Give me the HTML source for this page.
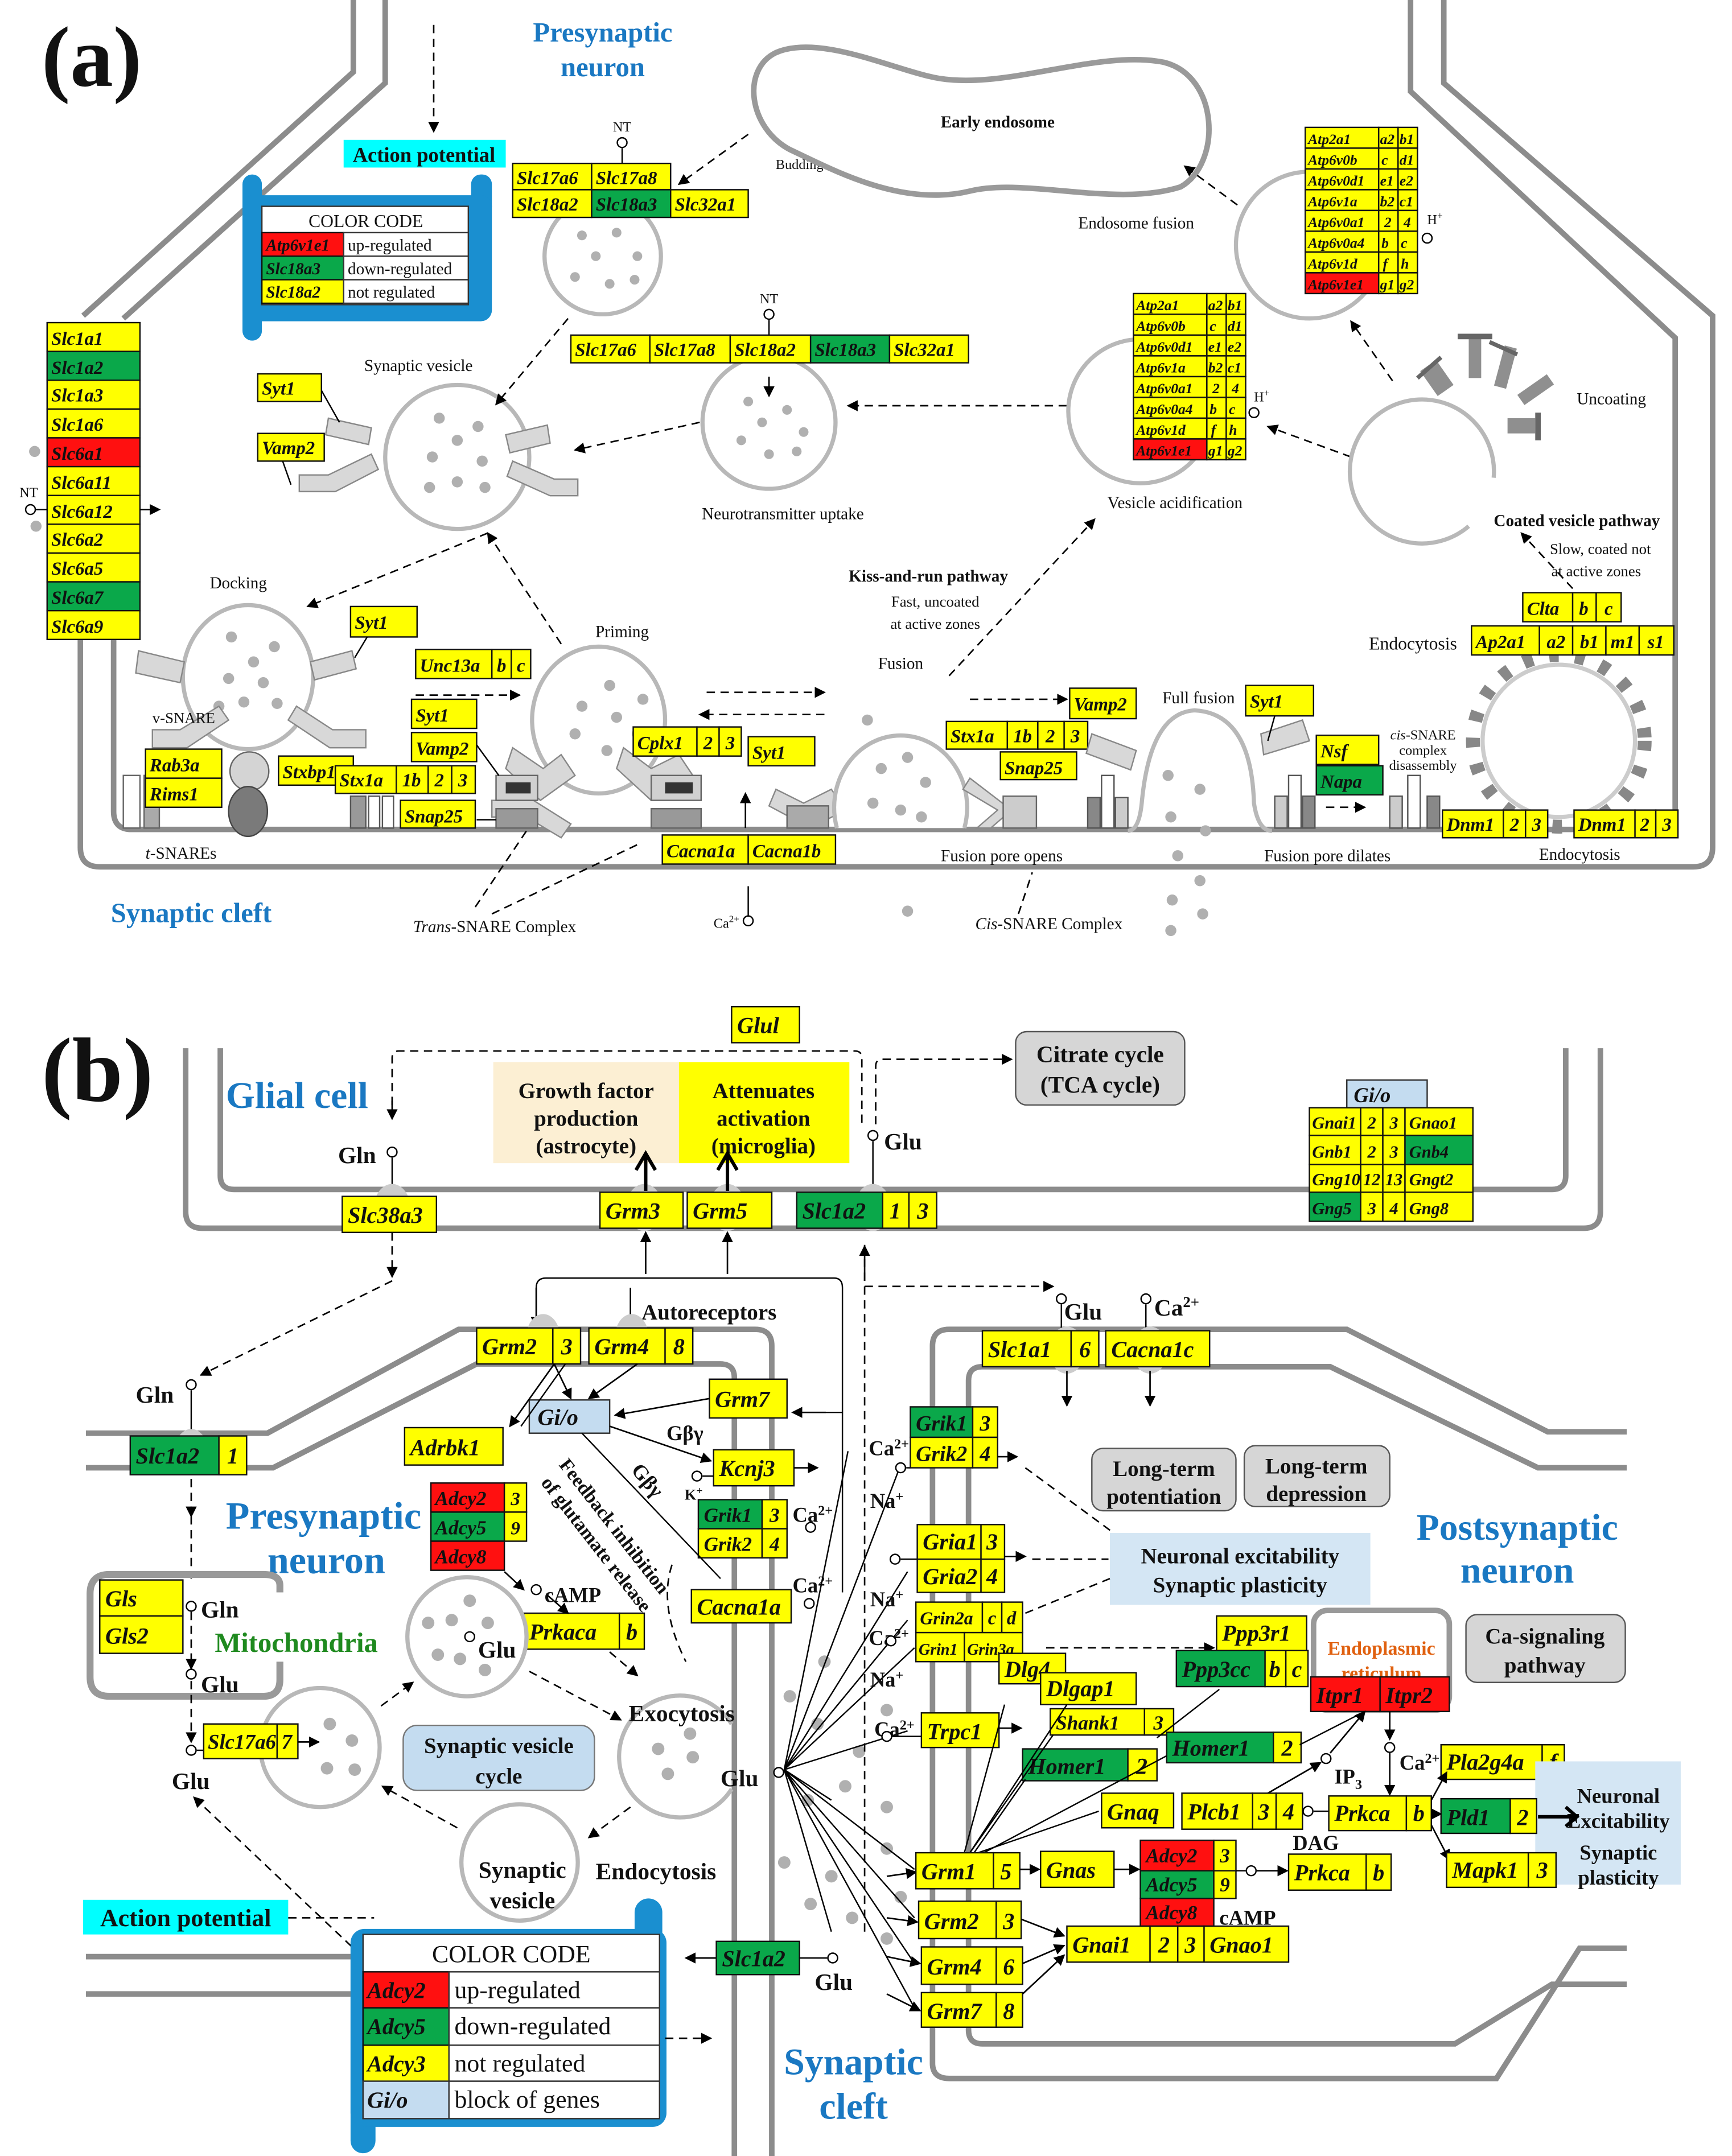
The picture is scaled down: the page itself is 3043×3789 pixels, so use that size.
<!DOCTYPE html>
<html><head><meta charset="utf-8">
<style>
html,body{margin:0;padding:0;background:#fff;}
svg{display:block;}
text{font-family:"Liberation Serif",serif;fill:#111;}
.Y{fill:#ffff00;stroke:#111;stroke-width:1}
.G{fill:#0aa84a;stroke:#111;stroke-width:1}
.R{fill:#ff1010;stroke:#111;stroke-width:1}
.L{fill:#c4dcf0;stroke:#333;stroke-width:1}
.gi{font-style:italic;font-size:13.5px;font-weight:bold}
.gb{font-style:italic;font-size:16.5px;font-weight:bold}
.c{text-anchor:middle}
.m{stroke:#8c8c8c;stroke-width:4;fill:none}
.v{fill:#fff;stroke:#b8b8b8;stroke-width:3}
.d{fill:#b0b0b0}
.a{stroke:#000;stroke-width:1.1;fill:none;marker-end:url(#ar)}
.da{stroke:#000;stroke-width:1.1;fill:none;stroke-dasharray:6 4;marker-end:url(#ar)}
.dl{stroke:#000;stroke-width:1.1;fill:none;stroke-dasharray:6 4}
.ln{stroke:#000;stroke-width:1;fill:none}
.s{font-size:12px}
.blue{fill:#1a78c2}
.gs{fill:#d8d8d8;stroke:#888;stroke-width:1}
.bsec text{font-weight:bold}
</style></head><body>
<svg width="3043" height="3789" viewBox="0 0 1250 1557" preserveAspectRatio="none" xmlns="http://www.w3.org/2000/svg">
<defs>
<marker id="ar" markerWidth="8" markerHeight="8" refX="7" refY="4" orient="auto" markerUnits="userSpaceOnUse"><path d="M0,0 L8,4 L0,8 z" fill="#000"/></marker>
</defs>
<rect width="1250" height="1557" fill="#fff"/>

<!-- ================= (a) ================= -->
<text x="30" y="62" style="font-size:62px;font-weight:bold">(a)</text>
<text x="435" y="30" class="c blue" style="font-size:20px;font-weight:bold">Presynaptic</text>
<text x="435" y="55" class="c blue" style="font-size:20px;font-weight:bold">neuron</text>
<text x="80" y="666" class="blue" style="font-size:20px;font-weight:bold">Synaptic cleft</text>

<path class="m" d="M255,0 V52 L60,228"/>
<path class="m" d="M278,0 V60 L89,230"/>
<path class="m" d="M58,462 V612 Q58,626 72,626 H1222 Q1236,626 1236,612 V228 L1042,60 V0"/>
<path class="m" d="M82,462 V586 Q82,599 95,599 H1209 V244 L1018,66 V0"/>

<path class="da" d="M313,18 V95"/>
<rect x="248" y="101" width="117" height="20" fill="#00ffff"/>
<text x="306" y="117" class="c" style="font-size:15px;font-weight:bold">Action potential</text>

<rect x="175" y="126" width="14" height="120" rx="7" fill="#1a8fd0"/>
<rect x="340" y="126" width="15" height="30" rx="7" fill="#1a8fd0"/>
<rect x="175" y="141" width="180" height="91" rx="8" fill="#1a8fd0"/>
<rect x="189" y="149" width="149" height="71" fill="#fff" stroke="#333"/>
<text x="264" y="164" class="c" style="font-size:13px">COLOR CODE</text>
<rect x="189" y="168" width="59" height="17" class="R"/><text x="192" y="181" class="gi" style="font-size:12px">Atp6v1e1</text>
<rect x="248" y="168" width="90" height="17" fill="#fff" stroke="#333"/><text x="251" y="181" style="font-size:12px">up-regulated</text>
<rect x="189" y="185" width="59" height="17" class="G"/><text x="192" y="198" class="gi" style="font-size:12px">Slc18a3</text>
<rect x="248" y="185" width="90" height="17" fill="#fff" stroke="#333"/><text x="251" y="198" style="font-size:12px">down-regulated</text>
<rect x="189" y="202" width="59" height="17" class="Y"/><text x="192" y="215" class="gi" style="font-size:12px">Slc18a2</text>
<rect x="248" y="202" width="90" height="17" fill="#fff" stroke="#333"/><text x="251" y="215" style="font-size:12px">not regulated</text>

<rect x="34" y="233" width="67" height="20.8" class="Y"/><text x="37" y="249" class="gi">Slc1a1</text>
<rect x="34" y="253.8" width="67" height="20.8" class="G"/><text x="37" y="270" class="gi">Slc1a2</text>
<rect x="34" y="274.6" width="67" height="20.8" class="Y"/><text x="37" y="290" class="gi">Slc1a3</text>
<rect x="34" y="295.4" width="67" height="20.8" class="Y"/><text x="37" y="311" class="gi">Slc1a6</text>
<rect x="34" y="316.2" width="67" height="20.8" class="R"/><text x="37" y="332" class="gi">Slc6a1</text>
<rect x="34" y="337" width="67" height="20.8" class="Y"/><text x="37" y="353" class="gi">Slc6a11</text>
<rect x="34" y="357.8" width="67" height="20.8" class="Y"/><text x="37" y="374" class="gi">Slc6a12</text>
<rect x="34" y="378.6" width="67" height="20.8" class="Y"/><text x="37" y="394" class="gi">Slc6a2</text>
<rect x="34" y="399.4" width="67" height="20.8" class="Y"/><text x="37" y="415" class="gi">Slc6a5</text>
<rect x="34" y="420.2" width="67" height="20.8" class="G"/><text x="37" y="436" class="gi">Slc6a7</text>
<rect x="34" y="441" width="67" height="20.8" class="Y"/><text x="37" y="457" class="gi">Slc6a9</text>
<circle cx="25" cy="326" r="4" class="d"/><circle cx="26" cy="380" r="4" class="d"/>
<text x="14" y="359" style="font-size:10px">NT</text>
<circle cx="22" cy="368" r="3.5" fill="#fff" stroke="#000"/>
<path class="ln" d="M25,368 H34"/><path class="a" d="M101,368 H115"/>

<text x="449" y="95" class="c" style="font-size:10px">NT</text>
<circle cx="449" cy="103" r="3.5" fill="#fff" stroke="#000"/><path class="ln" d="M449,107 V118"/>
<circle cx="435" cy="185" r="42" class="v"/>
<circle cx="420" cy="170" r="3.5" class="d"/><circle cx="445" cy="168" r="3.5" class="d"/><circle cx="430" cy="185" r="3.5" class="d"/><circle cx="460" cy="185" r="3.5" class="d"/><circle cx="415" cy="200" r="3.5" class="d"/><circle cx="440" cy="205" r="3.5" class="d"/><circle cx="458" cy="202" r="3.5" class="d"/>
<rect x="370" y="118" width="57" height="19" class="Y"/><text x="373" y="133" class="gi">Slc17a6</text>
<rect x="427" y="118" width="57" height="19" class="Y"/><text x="430" y="133" class="gi">Slc17a8</text>
<rect x="370" y="137" width="57" height="20" class="Y"/><text x="373" y="152" class="gi">Slc18a2</text>
<rect x="427" y="137" width="57" height="20" class="G"/><text x="430" y="152" class="gi">Slc18a3</text>
<rect x="484" y="137" width="56" height="20" class="Y"/><text x="487" y="152" class="gi">Slc32a1</text>
<path class="da" d="M540,97 L490,133"/>
<text x="577" y="122" class="c" style="font-size:10px">Budding</text>

<path d="M560,38 C590,25 640,48 670,55 C720,68 790,35 840,45 C880,55 882,118 852,135 C805,150 740,128 700,138 C650,150 600,122 570,108 C540,92 535,50 560,38 Z" fill="none" stroke="#9a9a9a" stroke-width="4"/>
<text x="720" y="92" class="c" style="font-size:12px;font-weight:bold">Early endosome</text>

<text x="302" y="268" class="c s">Synaptic vesicle</text>
<circle cx="330" cy="330" r="52" class="v"/>
<circle cx="317" cy="302" r="4" class="d"/><circle cx="345" cy="308" r="4" class="d"/><circle cx="330" cy="318" r="4" class="d"/><circle cx="312" cy="330" r="4" class="d"/><circle cx="348" cy="333" r="4" class="d"/><circle cx="310" cy="352" r="4" class="d"/><circle cx="330" cy="348" r="4" class="d"/><circle cx="350" cy="352" r="4" class="d"/>
<path class="gs" d="M237,302 L268,309 L266,321 L235,314 Z"/>
<path class="gs" d="M365,314 L395,307 L397,320 L368,327 Z"/>
<path class="gs" d="M216,343 H237 L268,328 L273,339 L242,355 H216 Z"/>
<path class="gs" d="M370,333 L400,346 H417 V358 H397 L366,344 Z"/>
<rect x="186" y="270" width="46" height="20" class="Y"/><text x="189" y="285" class="gi">Syt1</text>
<rect x="186" y="313" width="48" height="20" class="Y"/><text x="189" y="328" class="gi">Vamp2</text>
<path class="ln" d="M232,282 L245,305"/><path class="ln" d="M204,333 L210,350"/>
<path class="da" d="M410,230 L358,292"/>
<path class="da" d="M505,305 L415,325"/>
<path class="da" d="M352,385 L222,438"/>
<path class="da" d="M405,465 L352,385"/>

<text x="555" y="219" class="c" style="font-size:10px">NT</text>
<circle cx="555" cy="227" r="3.5" fill="#fff" stroke="#000"/><path class="ln" d="M555,231 V242"/>
<circle cx="555" cy="305" r="48" class="v"/>
<rect x="412" y="242" width="57" height="20" class="Y"/><text x="415" y="257" class="gi">Slc17a6</text>
<rect x="469" y="242" width="58" height="20" class="Y"/><text x="472" y="257" class="gi">Slc17a8</text>
<rect x="527" y="242" width="58" height="20" class="Y"/><text x="530" y="257" class="gi">Slc18a2</text>
<rect x="585" y="242" width="57" height="20" class="G"/><text x="588" y="257" class="gi">Slc18a3</text>
<rect x="642" y="242" width="57" height="20" class="Y"/><text x="645" y="257" class="gi">Slc32a1</text>
<circle cx="540" cy="290" r="3.5" class="d"/><circle cx="568" cy="296" r="3.5" class="d"/><circle cx="550" cy="305" r="3.5" class="d"/><circle cx="580" cy="312" r="3.5" class="d"/><circle cx="535" cy="318" r="3.5" class="d"/><circle cx="555" cy="328" r="3.5" class="d"/><circle cx="575" cy="326" r="3.5" class="d"/>
<path class="a" d="M555,272 V286"/>
<text x="565" y="375" class="c s">Neurotransmitter uptake</text>
<path class="da" d="M770,293 H612"/>

<circle cx="823" cy="297" r="52" class="v"/>
<text x="848" y="367" class="c s">Vesicle acidification</text>
<g>
<rect x="818" y="212" width="53" height="15" class="Y"/><rect x="871" y="212" width="14" height="15" class="Y"/><rect x="885" y="212" width="14" height="15" class="Y"/>
<rect x="818" y="227" width="53" height="15" class="Y"/><rect x="871" y="227" width="14" height="15" class="Y"/><rect x="885" y="227" width="14" height="15" class="Y"/>
<rect x="818" y="242" width="53" height="15" class="Y"/><rect x="871" y="242" width="14" height="15" class="Y"/><rect x="885" y="242" width="14" height="15" class="Y"/>
<rect x="818" y="257" width="53" height="15" class="Y"/><rect x="871" y="257" width="14" height="15" class="Y"/><rect x="885" y="257" width="14" height="15" class="Y"/>
<rect x="818" y="272" width="53" height="15" class="Y"/><rect x="871" y="272" width="14" height="15" class="Y"/><rect x="885" y="272" width="14" height="15" class="Y"/>
<rect x="818" y="287" width="53" height="15" class="Y"/><rect x="871" y="287" width="14" height="15" class="Y"/><rect x="885" y="287" width="14" height="15" class="Y"/>
<rect x="818" y="302" width="53" height="15" class="Y"/><rect x="871" y="302" width="14" height="15" class="Y"/><rect x="885" y="302" width="14" height="15" class="Y"/>
<rect x="818" y="317" width="53" height="15" class="R"/><rect x="871" y="317" width="14" height="15" class="Y"/><rect x="885" y="317" width="14" height="15" class="Y"/>
<g class="gi" style="font-size:10.5px">
<text x="820" y="224">Atp2a1</text><text x="872" y="224">a2</text><text x="886" y="224">b1</text>
<text x="820" y="239">Atp6v0b</text><text x="873" y="239">c</text><text x="886" y="239">d1</text>
<text x="820" y="254">Atp6v0d1</text><text x="872" y="254">e1</text><text x="886" y="254">e2</text>
<text x="820" y="269">Atp6v1a</text><text x="872" y="269">b2</text><text x="886" y="269">c1</text>
<text x="820" y="284">Atp6v0a1</text><text x="875" y="284">2</text><text x="889" y="284">4</text>
<text x="820" y="299">Atp6v0a4</text><text x="873" y="299">b</text><text x="887" y="299">c</text>
<text x="820" y="314">Atp6v1d</text><text x="874" y="314">f</text><text x="887" y="314">h</text>
<text x="820" y="329">Atp6v1e1</text><text x="872" y="329">g1</text><text x="886" y="329">g2</text>
</g></g>
<text x="905" y="290" style="font-size:10px">H<tspan dy="-4" style="font-size:7px">+</tspan></text>
<circle cx="905" cy="298" r="3.5" fill="#fff" stroke="#000"/>

<circle cx="945" cy="177" r="53" class="v"/>
<text x="820" y="165" class="c s">Endosome fusion</text>
<g>
<rect x="942" y="92" width="53" height="15" class="Y"/><rect x="995" y="92" width="14" height="15" class="Y"/><rect x="1009" y="92" width="14" height="15" class="Y"/>
<rect x="942" y="107" width="53" height="15" class="Y"/><rect x="995" y="107" width="14" height="15" class="Y"/><rect x="1009" y="107" width="14" height="15" class="Y"/>
<rect x="942" y="122" width="53" height="15" class="Y"/><rect x="995" y="122" width="14" height="15" class="Y"/><rect x="1009" y="122" width="14" height="15" class="Y"/>
<rect x="942" y="137" width="53" height="15" class="Y"/><rect x="995" y="137" width="14" height="15" class="Y"/><rect x="1009" y="137" width="14" height="15" class="Y"/>
<rect x="942" y="152" width="53" height="15" class="Y"/><rect x="995" y="152" width="14" height="15" class="Y"/><rect x="1009" y="152" width="14" height="15" class="Y"/>
<rect x="942" y="167" width="53" height="15" class="Y"/><rect x="995" y="167" width="14" height="15" class="Y"/><rect x="1009" y="167" width="14" height="15" class="Y"/>
<rect x="942" y="182" width="53" height="15" class="Y"/><rect x="995" y="182" width="14" height="15" class="Y"/><rect x="1009" y="182" width="14" height="15" class="Y"/>
<rect x="942" y="197" width="53" height="15" class="R"/><rect x="995" y="197" width="14" height="15" class="Y"/><rect x="1009" y="197" width="14" height="15" class="Y"/>
<g class="gi" style="font-size:10.5px">
<text x="944" y="104">Atp2a1</text><text x="996" y="104">a2</text><text x="1010" y="104">b1</text>
<text x="944" y="119">Atp6v0b</text><text x="997" y="119">c</text><text x="1010" y="119">d1</text>
<text x="944" y="134">Atp6v0d1</text><text x="996" y="134">e1</text><text x="1010" y="134">e2</text>
<text x="944" y="149">Atp6v1a</text><text x="996" y="149">b2</text><text x="1010" y="149">c1</text>
<text x="944" y="164">Atp6v0a1</text><text x="999" y="164">2</text><text x="1013" y="164">4</text>
<text x="944" y="179">Atp6v0a4</text><text x="997" y="179">b</text><text x="1011" y="179">c</text>
<text x="944" y="194">Atp6v1d</text><text x="998" y="194">f</text><text x="1011" y="194">h</text>
<text x="944" y="209">Atp6v1e1</text><text x="996" y="209">g1</text><text x="1010" y="209">g2</text>
</g></g>
<text x="1030" y="162" style="font-size:10px">H<tspan dy="-4" style="font-size:7px">+</tspan></text>
<circle cx="1030" cy="172" r="3.5" fill="#fff" stroke="#000"/>
<path class="da" d="M893,148 L855,120"/>
<path class="da" d="M1005,275 L975,232"/>
<path class="da" d="M975,330 L915,308"/>

<path d="M1060,380 A52,52 0 1 1 1078,345" fill="none" stroke="#b8b8b8" stroke-width="3"/>
<g fill="#8f8f8f">
<rect x="1030" y="262" width="14" height="22" transform="rotate(-35 1037 273)"/>
<rect x="1060" y="243" width="9" height="30"/><rect x="1052" y="241" width="25" height="4" fill="#666"/>
<rect x="1082" y="250" width="9" height="30" transform="rotate(15 1086 265)"/>
<rect x="1104" y="268" width="9" height="26" transform="rotate(55 1108 281)"/>
<rect x="1088" y="302" width="20" height="11"/><rect x="1108" y="298" width="4" height="20" fill="#666"/>
</g>
<path d="M1023,273 L1040,258" stroke="#666" stroke-width="3"/>
<path d="M1075,247 L1095,256" stroke="#666" stroke-width="3"/>
<text x="1138" y="292" class="s">Uncoating</text>
<text x="1138" y="380" class="c s" style="font-weight:bold">Coated vesicle pathway</text>
<text x="1155" y="400" class="c" style="font-size:11px">Slow, coated not</text>
<text x="1152" y="416" class="c" style="font-size:11px">at active zones</text>

<text x="670" y="420" class="c" style="font-size:12px;font-weight:bold">Kiss-and-run pathway</text>
<text x="675" y="438" class="c" style="font-size:11px">Fast, uncoated</text>
<text x="675" y="454" class="c" style="font-size:11px">at active zones</text>
<text x="650" y="483" class="c s">Fusion</text>
<path class="da" d="M685,488 L790,375"/>

<text x="172" y="425" class="c s">Docking</text>
<ellipse cx="179" cy="489" rx="47" ry="52" class="v"/>
<circle cx="167" cy="460" r="4" class="d"/><circle cx="198" cy="467" r="4" class="d"/><circle cx="183" cy="478" r="4" class="d"/><circle cx="165" cy="490" r="4" class="d"/><circle cx="190" cy="493" r="4" class="d"/><circle cx="158" cy="510" r="4" class="d"/><circle cx="176" cy="507" r="4" class="d"/><circle cx="200" cy="508" r="4" class="d"/>
<path class="gs" d="M100,470 L133,478 L130,493 L98,486 Z"/>
<path class="gs" d="M224,478 L254,470 L257,483 L227,491 Z"/>
<path class="gs" d="M110,527 H130 L158,510 L165,520 L135,540 H110 Z"/>
<path class="gs" d="M214,510 L240,527 H264 V540 H238 L208,520 Z"/>
<text x="110" y="522" style="font-size:11px">v-SNARE</text>
<rect x="89" y="560" width="12" height="38" fill="#fff" stroke="#666"/>
<rect x="104" y="560" width="11" height="38" fill="#aaa" stroke="#666"/>
<rect x="105" y="541" width="55" height="21" class="Y"/><text x="108" y="557" class="gi">Rab3a</text>
<rect x="105" y="562" width="55" height="21" class="Y"/><text x="108" y="578" class="gi">Rims1</text>
<circle cx="180" cy="557" r="14" fill="#d4d4d4" stroke="#666"/>
<ellipse cx="179" cy="586" rx="14" ry="18" fill="#7a7a7a" stroke="#444"/>
<rect x="201" y="546" width="54" height="21" class="Y"/><text x="204" y="562" class="gi">Stxbp1</text>
<rect x="242" y="553" width="44" height="20" class="Y"/><text x="245" y="568" class="gi">Stx1a</text>
<rect x="286" y="553" width="23" height="20" class="Y"/><text x="297" y="568" class="gi c">1b</text>
<rect x="309" y="553" width="17" height="20" class="Y"/><text x="317" y="568" class="gi c">2</text>
<rect x="326" y="553" width="17" height="20" class="Y"/><text x="334" y="568" class="gi c">3</text>
<rect x="253" y="575" width="11" height="23" fill="#999" stroke="#555"/><rect x="266" y="575" width="8" height="23" fill="#fff" stroke="#555"/><rect x="276" y="575" width="8" height="23" fill="#fff" stroke="#555"/>
<rect x="253" y="438" width="48" height="22" class="Y"/><text x="256" y="454" class="gi">Syt1</text>
<path class="ln" d="M265,460 L256,475"/>
<text x="105" y="620" class="s"><tspan font-style="italic">t</tspan>-SNAREs</text>

<rect x="300" y="469" width="55" height="21" class="Y"/><text x="303" y="485" class="gi">Unc13a</text>
<rect x="355" y="469" width="14" height="21" class="Y"/><text x="362" y="485" class="gi c">b</text>
<rect x="369" y="469" width="14" height="21" class="Y"/><text x="376" y="485" class="gi c">c</text>
<path class="da" d="M300,502 H375"/>
<text x="449" y="460" class="c s">Priming</text>
<ellipse cx="432" cy="520" rx="48" ry="53" class="v"/>
<circle cx="440" cy="495" r="4" class="d"/><circle cx="464" cy="505" r="4" class="d"/><circle cx="420" cy="510" r="4" class="d"/><circle cx="445" cy="518" r="4" class="d"/><circle cx="415" cy="530" r="4" class="d"/><circle cx="460" cy="530" r="4" class="d"/><circle cx="438" cy="542" r="4" class="d"/>
<rect x="297" y="505" width="47" height="21" class="Y"/><text x="300" y="521" class="gi">Syt1</text>
<rect x="297" y="529" width="47" height="21" class="Y"/><text x="300" y="545" class="gi">Vamp2</text>
<rect x="289" y="578" width="54" height="20" class="Y"/><text x="292" y="594" class="gi">Snap25</text>
<path class="gs" d="M370,540 L392,555 L405,545 L415,560 L390,578 L365,555 Z"/>
<path class="gs" d="M355,578 L385,578 L412,595 L405,605 L380,590 L355,590 Z"/>
<rect x="358" y="560" width="30" height="18" fill="#d0d0d0" stroke="#666"/><rect x="365" y="565" width="18" height="8" fill="#333"/>
<rect x="358" y="584" width="30" height="14" fill="#999" stroke="#666"/>
<path class="gs" d="M450,540 L470,555 L490,545 L500,560 L470,578 L445,555 Z"/>
<rect x="470" y="560" width="36" height="18" fill="#d0d0d0" stroke="#666"/><rect x="480" y="565" width="20" height="8" fill="#333"/>
<rect x="470" y="584" width="36" height="14" fill="#999" stroke="#666"/>
<path class="ln" d="M344,538 L360,560"/><path class="ln" d="M344,592 L358,592"/>
<rect x="457" y="525" width="46" height="21" class="Y"/><text x="460" y="541" class="gi">Cplx1</text>
<rect x="503" y="525" width="16" height="21" class="Y"/><text x="511" y="541" class="gi c">2</text>
<rect x="519" y="525" width="16" height="21" class="Y"/><text x="527" y="541" class="gi c">3</text>
<rect x="540" y="532" width="48" height="21" class="Y"/><text x="543" y="548" class="gi">Syt1</text>
<path class="gs" d="M560,570 L580,580 L600,570 L610,585 L585,598 L555,582 Z"/>
<rect x="568" y="582" width="30" height="16" fill="#aaa" stroke="#666"/>
<path class="da" d="M510,500 H595"/>
<path class="da" d="M595,516 H505"/>
<rect x="478" y="603" width="62" height="21" class="Y"/><text x="481" y="619" class="gi">Cacna1a</text>
<rect x="540" y="603" width="63" height="21" class="Y"/><text x="543" y="619" class="gi">Cacna1b</text>
<path class="a" d="M538,598 V573"/>
<text x="515" y="670" style="font-size:10px">Ca<tspan dy="-4" style="font-size:7px">2+</tspan></text>
<circle cx="540" cy="665" r="3.5" fill="#fff" stroke="#000"/><path class="ln" d="M540,661 V640"/>
<path class="dl" d="M343,655 L380,600"/><path class="dl" d="M355,660 L460,610"/>
<text x="357" y="673" class="c s"><tspan font-style="italic">Trans</tspan>-SNARE Complex</text>

<path d="M604,598 A48,52 0 1 1 696,598" fill="#fff" stroke="#b8b8b8" stroke-width="3"/>
<circle cx="636" cy="555" r="4" class="d"/><circle cx="655" cy="547" r="4" class="d"/><circle cx="668" cy="565" r="4" class="d"/><circle cx="630" cy="580" r="4" class="d"/><circle cx="650" cy="585" r="4" class="d"/><circle cx="665" cy="590" r="4" class="d"/><circle cx="655" cy="658" r="4" class="d"/><circle cx="626" cy="520" r="4" class="d"/>
<path class="da" d="M700,505 H770"/>
<rect x="772" y="497" width="48" height="22" class="Y"/><text x="775" y="513" class="gi">Vamp2</text>
<rect x="683" y="521" width="44" height="20" class="Y"/><text x="686" y="536" class="gi">Stx1a</text>
<rect x="727" y="521" width="22" height="20" class="Y"/><text x="738" y="536" class="gi c">1b</text>
<rect x="749" y="521" width="19" height="20" class="Y"/><text x="758" y="536" class="gi c">2</text>
<rect x="768" y="521" width="17" height="20" class="Y"/><text x="776" y="536" class="gi c">3</text>
<rect x="722" y="543" width="55" height="20" class="Y"/><text x="725" y="559" class="gi">Snap25</text>
<path class="gs" d="M695,570 L720,585 L705,598 L715,598 L730,585 L700,562 Z"/>
<rect x="724" y="575" width="24" height="23" fill="#ccc" stroke="#666"/>
<rect x="785" y="576" width="9" height="22" fill="#888" stroke="#555"/><rect x="795" y="560" width="9" height="38" fill="#fff" stroke="#555"/><rect x="805" y="576" width="9" height="22" fill="#ccc" stroke="#555"/>
<path class="gs" d="M788,530 L820,542 L816,556 L784,544 Z"/>
<text x="723" y="622" class="c s">Fusion pore opens</text>
<path class="dl" d="M735,660 L745,630"/>
<text x="757" y="671" class="c s"><tspan font-style="italic">Cis</tspan>-SNARE Complex</text>

<text x="865" y="508" class="c s">Full fusion</text>
<path d="M814,600 Q822,600 824,580 Q830,515 862,513 Q903,515 905,580 Q908,600 918,600" fill="none" stroke="#b8b8b8" stroke-width="3"/>
<circle cx="843" cy="560" r="4" class="d"/><circle cx="866" cy="570" r="4" class="d"/><circle cx="845" cy="590" r="4" class="d"/><circle cx="870" cy="600" r="4" class="d"/><circle cx="850" cy="618" r="4" class="d"/><circle cx="866" cy="636" r="4" class="d"/><circle cx="846" cy="650" r="4" class="d"/><circle cx="868" cy="660" r="4" class="d"/><circle cx="845" cy="672" r="4" class="d"/>
<rect x="899" y="495" width="49" height="22" class="Y"/><text x="902" y="511" class="gi">Syt1</text>
<path class="gs" d="M910,530 L940,520 L945,535 L912,545 Z"/><path class="ln" d="M920,517 L915,535"/>
<rect x="920" y="575" width="9" height="23" fill="#ccc" stroke="#555"/><rect x="930" y="560" width="9" height="38" fill="#fff" stroke="#555"/><rect x="940" y="575" width="9" height="23" fill="#888" stroke="#555"/>
<rect x="950" y="531" width="45" height="21" class="Y"/><text x="953" y="547" class="gi">Nsf</text>
<rect x="950" y="553" width="48" height="21" class="G"/><text x="953" y="569" class="gi">Napa</text>
<text x="1027" y="534" class="c" style="font-size:10px"><tspan font-style="italic">cis</tspan>-SNARE</text>
<text x="1027" y="545" class="c" style="font-size:10px">complex</text>
<text x="1027" y="556" class="c" style="font-size:10px">disassembly</text>
<path class="da" d="M957,583 H985"/>
<rect x="1003" y="575" width="9" height="23" fill="#ccc" stroke="#555"/><rect x="1016" y="560" width="9" height="38" fill="#fff" stroke="#555"/><rect x="1030" y="575" width="9" height="23" fill="#888" stroke="#555"/>
<text x="958" y="622" class="c s">Fusion pore dilates</text>

<circle cx="1125" cy="535" r="55" fill="none" stroke="#ccc" stroke-width="3"/>
<circle cx="1125" cy="535" r="62" fill="none" stroke="#888" stroke-width="10" stroke-dasharray="7 12"/>
<rect x="1099" y="428" width="36" height="21" class="Y"/><text x="1102" y="444" class="gi">Clta</text>
<rect x="1135" y="428" width="17" height="21" class="Y"/><text x="1143" y="444" class="gi c">b</text>
<rect x="1152" y="428" width="18" height="21" class="Y"/><text x="1161" y="444" class="gi c">c</text>
<text x="988" y="469" class="s" style="font-size:13px">Endocytosis</text>
<rect x="1062" y="452" width="49" height="21" class="Y"/><text x="1065" y="468" class="gi">Ap2a1</text>
<rect x="1111" y="452" width="24" height="21" class="Y"/><text x="1123" y="468" class="gi c">a2</text>
<rect x="1135" y="452" width="24" height="21" class="Y"/><text x="1147" y="468" class="gi c">b1</text>
<rect x="1159" y="452" width="24" height="21" class="Y"/><text x="1171" y="468" class="gi c">m1</text>
<rect x="1183" y="452" width="25" height="21" class="Y"/><text x="1195" y="468" class="gi c">s1</text>
<path class="da" d="M1135,425 L1098,385"/>
<rect x="1041" y="585" width="44" height="20" class="Y"/><text x="1044" y="600" class="gi">Dnm1</text>
<rect x="1085" y="585" width="16" height="20" class="Y"/><text x="1093" y="600" class="gi c">2</text>
<rect x="1101" y="585" width="16" height="20" class="Y"/><text x="1109" y="600" class="gi c">3</text>
<rect x="1136" y="585" width="44" height="20" class="Y"/><text x="1139" y="600" class="gi">Dnm1</text>
<rect x="1180" y="585" width="15" height="20" class="Y"/><text x="1187" y="600" class="gi c">2</text>
<rect x="1195" y="585" width="16" height="20" class="Y"/><text x="1203" y="600" class="gi c">3</text>
<text x="1140" y="621" class="c s">Endocytosis</text>

<!-- ================= (b) ================= -->
<g class="bsec">
<text x="30" y="795" style="font-size:66px;font-weight:bold">(b)</text>

<path class="m" d="M134,757 V875 Q134,887 146,887 H1143 Q1155,887 1155,875 V757"/>
<path class="m" d="M159,757 V849 Q159,859 169,859 H1120 Q1130,859 1130,849 V757"/>
<text x="163" y="800" class="blue" style="font-size:27px">Glial cell</text>

<path class="m" d="M62,1035 H193 L331,960 H545 Q557,960 557,972 V1557"/>
<path class="m" d="M62,1060 H197 L344,985 H520 Q530,985 530,995 V1557"/>
<path class="m" d="M62,1413 H260"/>
<path class="m" d="M62,1440 H260"/>
<path class="m" d="M1174,1034 H1117 L972,960 H685 Q673,960 673,972 V1490 Q673,1501 685,1501 H1080 L1140,1407 H1174"/>
<path class="m" d="M1174,1060 H1110 L960,987 H709 Q699,987 699,997 V1466 Q699,1476 709,1476 H1050 L1120,1433 H1174"/>

<rect x="528" y="727" width="49" height="26" class="Y"/><text x="532" y="746" class="gb">Glul</text>
<path class="dl" d="M283,808 V764 Q283,759 288,759 H617 Q622,759 622,764 V812"/>
<path class="a" d="M283,795 V808"/>
<path class="da" d="M632,812 V770 Q632,765 637,765 H730"/>
<rect x="356" y="767" width="134" height="73" fill="#fcefd3"/>
<text x="423" y="793" class="c" style="font-size:16px">Growth factor</text>
<text x="423" y="813" class="c" style="font-size:16px">production</text>
<text x="423" y="833" class="c" style="font-size:16px">(astrocyte)</text>
<rect x="490" y="767" width="123" height="73" fill="#ffff00"/>
<text x="551" y="793" class="c" style="font-size:16px">Attenuates</text>
<text x="551" y="813" class="c" style="font-size:16px">activation</text>
<text x="551" y="833" class="c" style="font-size:16px">(microglia)</text>
<rect x="733" y="745" width="122" height="53" rx="8" fill="#d6d6d6" stroke="#555"/>
<text x="794" y="767" class="c" style="font-size:17px">Citrate cycle</text>
<text x="794" y="789" class="c" style="font-size:17px">(TCA cycle)</text>
<text x="244" y="840" style="font-size:17px">Gln</text>
<circle cx="283" cy="832" r="3.5" fill="#fff" stroke="#000"/><path class="ln" d="M283,836 V858"/>
<text x="638" y="830" style="font-size:17px">Glu</text>
<circle cx="630" cy="820" r="3.5" fill="#fff" stroke="#000"/><path class="ln" d="M630,824 V858"/>
<ellipse cx="283" cy="872" rx="13" ry="17" fill="#ccc"/>
<ellipse cx="465" cy="872" rx="13" ry="17" fill="#ccc"/>
<ellipse cx="525" cy="872" rx="13" ry="17" fill="#ccc"/>
<ellipse cx="630" cy="872" rx="13" ry="17" fill="#ccc"/>
<rect x="247" y="864" width="68" height="26" class="Y"/><text x="251" y="883" class="gb">Slc38a3</text>
<rect x="433" y="861" width="60" height="26" class="Y"/><text x="437" y="880" class="gb">Grm3</text>
<rect x="496" y="861" width="61" height="26" class="Y"/><text x="500" y="880" class="gb">Grm5</text>
<rect x="575" y="861" width="62" height="26" class="G"/><text x="579" y="880" class="gb">Slc1a2</text>
<rect x="637" y="861" width="19" height="26" class="Y"/><text x="646" y="880" class="gb c">1</text>
<rect x="656" y="861" width="20" height="26" class="Y"/><text x="666" y="880" class="gb c">3</text>
<path d="M466,860 V835" stroke="#000" stroke-width="2.5" fill="none"/><path d="M459,845 L466,833 L473,845" stroke="#000" stroke-width="2.5" fill="none"/>
<path d="M525,860 V835" stroke="#000" stroke-width="2.5" fill="none"/><path d="M518,845 L525,833 L532,845" stroke="#000" stroke-width="2.5" fill="none"/>

<rect x="972" y="780" width="58" height="20" class="L"/><text x="977" y="796" class="gb" style="font-size:15px">Gi/o</text>
<g>
<rect x="945" y="800" width="37" height="20" class="Y"/><rect x="982" y="800" width="16" height="20" class="Y"/><rect x="998" y="800" width="16" height="20" class="Y"/><rect x="1014" y="800" width="49" height="20" class="Y"/>
<rect x="945" y="820" width="37" height="21" class="Y"/><rect x="982" y="820" width="16" height="21" class="Y"/><rect x="998" y="820" width="16" height="21" class="Y"/><rect x="1014" y="820" width="49" height="21" class="G"/>
<rect x="945" y="841" width="37" height="20" class="Y"/><rect x="982" y="841" width="16" height="20" class="Y"/><rect x="998" y="841" width="16" height="20" class="Y"/><rect x="1014" y="841" width="49" height="20" class="Y"/>
<rect x="945" y="861" width="37" height="21" class="G"/><rect x="982" y="861" width="16" height="21" class="Y"/><rect x="998" y="861" width="16" height="21" class="Y"/><rect x="1014" y="861" width="49" height="21" class="Y"/>
<g class="gi" style="font-size:12.5px">
<text x="947" y="815">Gnai1</text><text x="990" y="815" class="c">2</text><text x="1006" y="815" class="c">3</text><text x="1017" y="815">Gnao1</text>
<text x="947" y="836">Gnb1</text><text x="990" y="836" class="c">2</text><text x="1006" y="836" class="c">3</text><text x="1017" y="836">Gnb4</text>
<text x="947" y="856">Gng10</text><text x="990" y="856" class="c">12</text><text x="1006" y="856" class="c">13</text><text x="1017" y="856">Gngt2</text>
<text x="947" y="877">Gng5</text><text x="990" y="877" class="c">3</text><text x="1006" y="877" class="c">4</text><text x="1017" y="877">Gng8</text>
</g></g>

<path class="da" d="M283,890 V922"/>
<path class="da" d="M283,925 L145,993"/>
<path class="a" d="M466,920 V890"/><path class="a" d="M525,920 V890"/>
<path class="ln" d="M387,958 V930 Q387,923 394,923 H602 Q608,923 608,930 V1150"/>
<path class="a" d="M387,930 V958"/><path class="a" d="M455,930 V958"/>
<text x="463" y="953" style="font-size:16px">Autoreceptors</text>
<ellipse cx="392" cy="965" rx="12" ry="16" fill="#ccc"/><ellipse cx="456" cy="965" rx="12" ry="16" fill="#ccc"/>
<rect x="344" y="959" width="55" height="26" class="Y"/><text x="348" y="978" class="gb">Grm2</text>
<rect x="399" y="959" width="20" height="26" class="Y"/><text x="409" y="978" class="gb c">3</text>
<rect x="425" y="959" width="55" height="26" class="Y"/><text x="429" y="978" class="gb">Grm4</text>
<rect x="480" y="959" width="20" height="26" class="Y"/><text x="490" y="978" class="gb c">8</text>
<text x="98" y="1013" style="font-size:17px">Gln</text>
<circle cx="138" cy="1000" r="3.5" fill="#fff" stroke="#000"/><path class="ln" d="M138,1004 V1036"/>
<ellipse cx="138" cy="1048" rx="12" ry="16" fill="#ccc"/>
<rect x="94" y="1037" width="64" height="28" class="G"/><text x="98" y="1057" class="gb">Slc1a2</text>
<rect x="158" y="1037" width="20" height="28" class="Y"/><text x="168" y="1057" class="gb c">1</text>
<path class="da" d="M138,1068 V1095"/>
<path class="dl" d="M138,1095 V1140"/>
<rect x="382" y="1011" width="58" height="24" class="L"/><text x="388" y="1029" class="gb">Gi/o</text>
<rect x="512" y="996" width="56" height="28" class="Y"/><text x="516" y="1016" class="gb">Grm7</text>
<rect x="292" y="1031" width="71" height="27" class="Y"/><text x="296" y="1051" class="gb">Adrbk1</text>
<rect x="515" y="1047" width="58" height="26" class="Y"/><text x="519" y="1066" class="gb">Kcnj3</text>
<rect x="311" y="1071" width="53" height="21" class="R"/><text x="314" y="1087" class="gi" style="font-size:14.5px">Adcy2</text>
<rect x="364" y="1071" width="16" height="21" class="Y"/><text x="372" y="1087" class="gi c">3</text>
<rect x="311" y="1092" width="53" height="21" class="G"/><text x="314" y="1108" class="gi" style="font-size:14.5px">Adcy5</text>
<rect x="364" y="1092" width="16" height="21" class="Y"/><text x="372" y="1108" class="gi c">9</text>
<rect x="311" y="1113" width="53" height="21" class="R"/><text x="314" y="1129" class="gi" style="font-size:14.5px">Adcy8</text>
<rect x="504" y="1083" width="46" height="21" class="G"/><text x="508" y="1099" class="gi" style="font-size:14.5px">Grik1</text>
<rect x="550" y="1083" width="18" height="21" class="Y"/><text x="559" y="1099" class="gi c" style="font-size:14.5px">3</text>
<rect x="504" y="1104" width="46" height="21" class="Y"/><text x="508" y="1120" class="gi" style="font-size:14.5px">Grik2</text>
<rect x="550" y="1104" width="18" height="21" class="Y"/><text x="559" y="1120" class="gi c" style="font-size:14.5px">4</text>
<rect x="499" y="1148" width="72" height="24" class="Y"/><text x="503" y="1166" class="gb">Cacna1a</text>
<rect x="378" y="1165" width="69" height="26" class="Y"/><text x="382" y="1184" class="gb">Prkaca</text>
<rect x="447" y="1165" width="18" height="26" class="Y"/><text x="456" y="1184" class="gb c">b</text>
<path class="a" d="M400,985 L368,1030"/><path class="ln" d="M408,985 L376,1030"/>
<path class="a" d="M400,985 L412,1010"/><path class="a" d="M460,985 L425,1010"/>
<path class="a" d="M512,1010 L444,1022"/>
<path class="a" d="M440,1030 L513,1055"/>
<text x="481" y="1040" style="font-size:15px">Gβγ</text>
<path class="ln" d="M420,1035 L520,1140"/>
<text x="455" y="1062" transform="rotate(50 455 1062)" style="font-size:15px">Gβγ</text>
<text x="403" y="1058" transform="rotate(52 403 1058)" style="font-size:14px">Feedback inhibition</text>
<text x="390" y="1071" transform="rotate(52 390 1071)" style="font-size:14px">of glutamate release</text>
<text x="494" y="1083" style="font-size:11px">K<tspan dy="-4" style="font-size:8px">+</tspan></text>
<circle cx="503" cy="1066" r="3.5" fill="#fff" stroke="#000"/><path class="ln" d="M507,1066 H515"/>
<path class="a" d="M573,1060 H590"/>
<path class="ln" d="M608,1020 H580"/><path class="a" d="M596,1020 H572"/>
<text x="572" y="1099" style="font-size:15px">Ca<tspan dy="-5" style="font-size:10px">2+</tspan></text>
<circle cx="585" cy="1103" r="3.5" fill="#fff" stroke="#000"/>
<text x="572" y="1150" style="font-size:15px">Ca<tspan dy="-5" style="font-size:10px">2+</tspan></text>
<circle cx="584" cy="1158" r="3.5" fill="#fff" stroke="#000"/>
<path class="a" d="M364,1135 L378,1148"/>
<text x="393" y="1157" style="font-size:15px">cAMP</text>
<circle cx="387" cy="1148" r="3.5" fill="#fff" stroke="#000"/>
<path class="a" d="M395,1152 L410,1165"/>
<path class="da" d="M440,1193 L460,1210"/>
<path class="dl" d="M485,1130 Q475,1160 495,1200"/>
<text x="163" y="1104" class="blue" style="font-size:28px">Presynaptic</text>
<text x="193" y="1136" class="blue" style="font-size:28px">neuron</text>

<path d="M202,1150 V1145 Q202,1137 190,1137 H79 Q65,1137 65,1151 V1211 Q65,1225 79,1225 H190 Q202,1225 202,1213 V1200" fill="none" stroke="#999" stroke-width="5"/>
<rect x="72" y="1141" width="60" height="26" class="Y"/><text x="76" y="1160" class="gb">Gls</text>
<rect x="72" y="1167" width="60" height="27" class="Y"/><text x="76" y="1187" class="gb">Gls2</text>
<text x="145" y="1168" style="font-size:17px">Gln</text>
<circle cx="138" cy="1160" r="3.5" fill="#fff" stroke="#000"/>
<path class="da" d="M138,1164 V1205"/>
<circle cx="138" cy="1209" r="3.5" fill="#fff" stroke="#000"/>
<text x="145" y="1222" style="font-size:17px">Glu</text>
<text x="155" y="1193" style="font-size:20px;fill:#1f8a1f">Mitochondria</text>
<path class="da" d="M138,1214 V1258"/>
<circle cx="138" cy="1264" r="3.5" fill="#fff" stroke="#000"/><path class="ln" d="M142,1264 H147"/>
<text x="124" y="1292" style="font-size:17px">Glu</text>

<circle cx="231" cy="1262" r="43" class="v"/>
<circle cx="238" cy="1245" r="4.5" class="d"/><circle cx="254" cy="1257" r="4.5" class="d"/><circle cx="236" cy="1277" r="4.5" class="d"/><circle cx="256" cy="1278" r="4.5" class="d"/>
<rect x="147" y="1245" width="53" height="25" class="Y"/><text x="150" y="1263" class="gi" style="font-size:15px">Slc17a6</text>
<rect x="200" y="1245" width="15" height="25" class="Y"/><text x="207" y="1263" class="gi c" style="font-size:15px">7</text>
<path class="a" d="M215,1258 H230"/>
<path class="da" d="M275,1232 L298,1215"/>
<circle cx="337" cy="1182" r="43" class="v"/>
<circle cx="339" cy="1156" r="4.5" class="d"/><circle cx="326" cy="1170" r="4.5" class="d"/><circle cx="352" cy="1172" r="4.5" class="d"/><circle cx="309" cy="1172" r="4.5" class="d"/><circle cx="316" cy="1195" r="4.5" class="d"/><circle cx="332" cy="1198" r="4.5" class="d"/><circle cx="350" cy="1206" r="4.5" class="d"/>
<circle cx="339" cy="1182" r="3.5" fill="#fff" stroke="#000"/>
<text x="345" y="1197" style="font-size:17px">Glu</text>
<path class="da" d="M382,1207 L448,1242"/>
<path d="M528,1245 A44,44 0 1 0 528,1292" fill="#fff" stroke="#b8b8b8" stroke-width="3"/>
<text x="492" y="1243" class="c" style="font-size:17px">Exocytosis</text>
<circle cx="498" cy="1252" r="4.5" class="d"/><circle cx="475" cy="1263" r="4.5" class="d"/><circle cx="500" cy="1269" r="4.5" class="d"/><circle cx="482" cy="1281" r="4.5" class="d"/>
<rect x="291" y="1246" width="138" height="47" rx="10" class="L" style="stroke:#777"/>
<text x="360" y="1266" class="c" style="font-size:16px">Synaptic vesicle</text>
<text x="360" y="1288" class="c" style="font-size:16px">cycle</text>
<path class="da" d="M330,1320 L276,1290"/>
<circle cx="375" cy="1345" r="42" class="v"/>
<text x="377" y="1356" class="c" style="font-size:17px">Synaptic</text>
<text x="377" y="1378" class="c" style="font-size:17px">vesicle</text>
<path class="da" d="M455,1305 L425,1327"/>
<text x="430" y="1357" style="font-size:17px">Endocytosis</text>
<path class="da" d="M290,1440 L140,1298"/>
<text x="520" y="1290" style="font-size:17px">Glu</text>
<circle cx="562" cy="1280" r="3.5" fill="#fff" stroke="#000"/>

<rect x="60" y="1372" width="148" height="25" fill="#00ffff"/>
<text x="134" y="1391" class="c" style="font-size:18px">Action potential</text>
<path class="dl" d="M208,1385 H270"/>

<rect x="253" y="1395" width="18" height="160" rx="9" fill="#1a8fd0"/>
<rect x="458" y="1371" width="20" height="35" rx="10" fill="#1a8fd0"/>
<rect x="253" y="1393" width="228" height="143" rx="10" fill="#1a8fd0"/>
<rect x="262" y="1397" width="214" height="133" fill="#fff" stroke="#333"/>
<text x="369" y="1417" class="c" style="font-size:18px;font-weight:normal">COLOR CODE</text>
<rect x="262" y="1424" width="62" height="26" class="R"/><text x="265" y="1443" class="gb">Adcy2</text>
<rect x="324" y="1424" width="152" height="26" fill="#fff" stroke="#333"/><text x="328" y="1443" style="font-size:18px;font-weight:normal">up-regulated</text>
<rect x="262" y="1450" width="62" height="27" class="G"/><text x="265" y="1469" class="gb">Adcy5</text>
<rect x="324" y="1450" width="152" height="27" fill="#fff" stroke="#333"/><text x="328" y="1469" style="font-size:18px;font-weight:normal">down-regulated</text>
<rect x="262" y="1477" width="62" height="26" class="Y"/><text x="265" y="1496" class="gb">Adcy3</text>
<rect x="324" y="1477" width="152" height="26" fill="#fff" stroke="#333"/><text x="328" y="1496" style="font-size:18px;font-weight:normal">not regulated</text>
<rect x="262" y="1503" width="62" height="27" class="L"/><text x="265" y="1522" class="gb">Gi/o</text>
<rect x="324" y="1503" width="152" height="27" fill="#fff" stroke="#333"/><text x="328" y="1522" style="font-size:18px;font-weight:normal">block of genes</text>
<path class="a" d="M517,1414 H495"/>
<path class="da" d="M480,1472 H513"/>
<rect x="517" y="1402" width="60" height="24" class="G"/><text x="521" y="1420" class="gb">Slc1a2</text>
<circle cx="601" cy="1414" r="3.5" fill="#fff" stroke="#000"/><path class="ln" d="M577,1414 H597"/>
<text x="588" y="1437" style="font-size:17px">Glu</text>
<text x="616" y="1498" class="c blue" style="font-size:27px">Synaptic</text>
<text x="616" y="1530" class="c blue" style="font-size:27px">cleft</text>

<g class="d">
<circle cx="570" cy="1225" r="4.5"/><circle cx="590" cy="1245" r="4.5"/><circle cx="620" cy="1265" r="4.5"/><circle cx="583" cy="1300" r="4.5"/><circle cx="610" cy="1290" r="4.5"/><circle cx="640" cy="1305" r="4.5"/><circle cx="566" cy="1345" r="4.5"/><circle cx="600" cy="1355" r="4.5"/><circle cx="640" cy="1335" r="4.5"/><circle cx="585" cy="1375" r="4.5"/><circle cx="615" cy="1385" r="4.5"/><circle cx="650" cy="1370" r="4.5"/><circle cx="595" cy="1200" r="4.5"/><circle cx="640" cy="1235" r="4.5"/><circle cx="640" cy="1400" r="4.5"/>
</g>

<path class="dl" d="M624,1395 V898"/>
<path class="a" d="M624,925 V900"/>
<path class="da" d="M624,929 H760"/>

<g class="ln">
<path d="M566,1278 L612,1048"/><path d="M566,1278 L650,1058"/><path d="M566,1278 L655,1135"/><path d="M566,1278 L655,1170"/><path d="M566,1278 L660,1190"/><path d="M566,1278 L655,1250"/>
<path d="M566,1278 L660,1350"/><path d="M566,1278 L660,1385"/><path d="M566,1278 L660,1418"/><path d="M566,1278 L660,1450"/><path d="M566,1278 L600,1395"/><path d="M566,1278 L600,1300"/>
</g>
<path class="a" d="M640,1355 L661,1352"/><path class="a" d="M640,1385 L662,1388"/><path class="a" d="M640,1413 L664,1418"/><path class="a" d="M640,1440 L664,1452"/>

<text x="768" y="953" style="font-size:17px">Glu</text>
<circle cx="766" cy="938" r="3.5" fill="#fff" stroke="#000"/><path class="ln" d="M766,942 V960"/>
<text x="833" y="950" style="font-size:17px">Ca<tspan dy="-6" style="font-size:11px">2+</tspan></text>
<circle cx="827" cy="938" r="3.5" fill="#fff" stroke="#000"/><path class="ln" d="M827,942 V960"/>
<ellipse cx="770" cy="975" rx="13" ry="17" fill="#ccc"/><ellipse cx="830" cy="975" rx="13" ry="17" fill="#ccc"/>
<rect x="709" y="961" width="64" height="26" class="Y"/><text x="713" y="980" class="gb">Slc1a1</text>
<rect x="773" y="961" width="20" height="26" class="Y"/><text x="783" y="980" class="gb c">6</text>
<rect x="798" y="961" width="75" height="26" class="Y"/><text x="802" y="980" class="gb">Cacna1c</text>
<path class="a" d="M770,990 V1015"/><path class="a" d="M830,990 V1015"/>
<text x="627" y="1051" style="font-size:15px">Ca<tspan dy="-5" style="font-size:10px">2+</tspan></text>
<circle cx="650" cy="1060" r="3.5" fill="#fff" stroke="#000"/><path class="ln" d="M654,1060 H657"/>
<text x="628" y="1089" style="font-size:15px">Na<tspan dy="-5" style="font-size:10px">+</tspan></text>
<rect x="657" y="1016" width="45" height="22" class="G"/><text x="661" y="1033" class="gi" style="font-size:15.5px">Grik1</text>
<rect x="702" y="1016" width="18" height="22" class="Y"/><text x="711" y="1033" class="gi c" style="font-size:15.5px">3</text>
<rect x="657" y="1038" width="45" height="22" class="Y"/><text x="661" y="1055" class="gi" style="font-size:15.5px">Grik2</text>
<rect x="702" y="1038" width="18" height="22" class="Y"/><text x="711" y="1055" class="gi c" style="font-size:15.5px">4</text>
<path class="a" d="M720,1052 H734"/>
<path class="dl" d="M740,1060 L805,1108"/>
<rect x="788" y="1046" width="104" height="45" rx="8" fill="#d6d6d6" stroke="#555"/>
<text x="840" y="1066" class="c" style="font-size:16px">Long-term</text>
<text x="840" y="1086" class="c" style="font-size:16px">potentiation</text>
<rect x="898" y="1044" width="105" height="44" rx="8" fill="#d6d6d6" stroke="#555"/>
<text x="950" y="1064" class="c" style="font-size:16px">Long-term</text>
<text x="950" y="1084" class="c" style="font-size:16px">depression</text>
<text x="1095" y="1112" class="c blue" style="font-size:27px">Postsynaptic</text>
<text x="1095" y="1143" class="c blue" style="font-size:27px">neuron</text>
<circle cx="646" cy="1126" r="3.5" fill="#fff" stroke="#000"/><path class="ln" d="M650,1126 H662"/>
<text x="628" y="1160" style="font-size:15px">Na<tspan dy="-5" style="font-size:10px">+</tspan></text>
<rect x="662" y="1101" width="46" height="25" class="Y"/><text x="666" y="1119" class="gb">Gria1</text>
<rect x="708" y="1101" width="17" height="25" class="Y"/><text x="716" y="1119" class="gb c">3</text>
<rect x="662" y="1126" width="46" height="24" class="Y"/><text x="666" y="1144" class="gb">Gria2</text>
<rect x="708" y="1126" width="17" height="24" class="Y"/><text x="716" y="1144" class="gb c">4</text>
<path class="a" d="M725,1124 H740"/>
<path class="dl" d="M745,1126 H800"/>
<rect x="801" y="1107" width="188" height="52" fill="#d4e6f4"/>
<text x="895" y="1129" class="c" style="font-size:16px">Neuronal excitability</text>
<text x="895" y="1150" class="c" style="font-size:16px">Synaptic plasticity</text>
<text x="627" y="1188" style="font-size:15px">Ca<tspan dy="-5" style="font-size:10px">2+</tspan></text>
<circle cx="643" cy="1185" r="3.5" fill="#fff" stroke="#000"/>
<rect x="661" y="1157" width="48" height="22" class="Y"/><text x="664" y="1173" class="gi" style="font-size:13px">Grin2a</text>
<rect x="709" y="1157" width="14" height="22" class="Y"/><text x="716" y="1173" class="gi c">c</text>
<rect x="723" y="1157" width="15" height="22" class="Y"/><text x="730" y="1173" class="gi c">d</text>
<rect x="661" y="1179" width="35" height="21" class="Y"/><text x="663" y="1195" class="gi" style="font-size:11.5px">Grin1</text>
<rect x="696" y="1179" width="42" height="21" class="Y"/><text x="698" y="1195" class="gi" style="font-size:11.5px">Grin3a</text>
<text x="628" y="1218" style="font-size:15px">Na<tspan dy="-5" style="font-size:10px">+</tspan></text>
<path class="dl" d="M740,1165 L801,1140"/>
<path class="da" d="M755,1190 H876"/>
<rect x="721" y="1194" width="48" height="22" class="Y"/><text x="725" y="1211" class="gb">Dlg4</text>
<rect x="751" y="1208" width="69" height="23" class="Y"/><text x="755" y="1225" class="gb">Dlgap1</text>
<rect x="878" y="1167" width="65" height="25" class="Y"/><text x="882" y="1185" class="gb">Ppp3r1</text>
<rect x="849" y="1192" width="64" height="26" class="G"/><text x="853" y="1211" class="gb">Ppp3cc</text>
<rect x="913" y="1192" width="15" height="26" class="Y"/><text x="920" y="1211" class="gb c">b</text>
<rect x="928" y="1192" width="16" height="26" class="Y"/><text x="936" y="1211" class="gb c">c</text>
<rect x="948" y="1163" width="98" height="72" rx="10" fill="none" stroke="#999" stroke-width="4"/>
<text x="997" y="1195" class="c" style="font-size:14px;fill:#e0600f">Endoplasmic</text>
<text x="997" y="1213" class="c" style="font-size:14px;fill:#e0600f">reticulum</text>
<rect x="946" y="1211" width="50" height="25" class="R"/><text x="950" y="1230" class="gb">Itpr1</text>
<rect x="996" y="1211" width="50" height="25" class="R"/><text x="1000" y="1230" class="gb">Itpr2</text>
<rect x="1058" y="1166" width="115" height="49" rx="8" fill="#d6d6d6" stroke="#555"/>
<text x="1115" y="1187" class="c" style="font-size:16px">Ca-signaling</text>
<text x="1115" y="1208" class="c" style="font-size:16px">pathway</text>
<text x="631" y="1254" style="font-size:15px">Ca<tspan dy="-5" style="font-size:10px">2+</tspan></text>
<circle cx="640" cy="1254" r="3.5" fill="#fff" stroke="#000"/><path class="ln" d="M644,1254 H665"/>
<rect x="665" y="1237" width="56" height="25" class="Y"/><text x="669" y="1256" class="gb">Trpc1</text>
<path class="a" d="M721,1248 H737"/>
<rect x="758" y="1234" width="68" height="19" class="Y"/><text x="762" y="1249" class="gi" style="font-size:14.5px">Shank1</text>
<rect x="826" y="1234" width="21" height="19" class="Y"/><text x="836" y="1249" class="gi c" style="font-size:14.5px">3</text>
<rect x="738" y="1263" width="76" height="23" class="G"/><text x="742" y="1281" class="gb">Homer1</text>
<rect x="814" y="1263" width="21" height="23" class="Y"/><text x="824" y="1281" class="gb c">2</text>
<rect x="842" y="1251" width="77" height="22" class="G"/><text x="846" y="1268" class="gb">Homer1</text>
<rect x="919" y="1251" width="20" height="22" class="Y"/><text x="929" y="1268" class="gb c">2</text>
<path class="ln" d="M835,1255 L880,1220"/><path class="ln" d="M938,1260 L985,1236"/>
<path class="a" d="M1003,1236 V1256"/>
<circle cx="1003" cy="1262" r="3.5" fill="#fff" stroke="#000"/>
<text x="1010" y="1278" style="font-size:15px">Ca<tspan dy="-5" style="font-size:10px">2+</tspan></text>
<path class="a" d="M1003,1266 V1296"/>
<circle cx="957" cy="1270" r="3.5" fill="#fff" stroke="#000"/>
<text x="963" y="1288" style="font-size:15px">IP<tspan dy="4" style="font-size:10px">3</tspan></text>
<path class="a" d="M960,1266 L985,1236"/><path class="a" d="M915,1295 L953,1273"/>
<rect x="1040" y="1260" width="73" height="25" class="Y"/><text x="1044" y="1278" class="gb">Pla2g4a</text>
<rect x="1113" y="1260" width="16" height="25" class="Y"/><text x="1121" y="1278" class="gb c">f</text>
<rect x="1108" y="1272" width="105" height="89" fill="#d4e6f4"/>
<text x="1168" y="1302" class="c" style="font-size:15px">Neuronal</text>
<text x="1168" y="1320" class="c" style="font-size:15px">Excitability</text>
<text x="1168" y="1343" class="c" style="font-size:15px">Synaptic</text>
<text x="1168" y="1361" class="c" style="font-size:15px">plasticity</text>
<rect x="795" y="1295" width="52" height="25" class="Y"/><text x="799" y="1314" class="gb">Gnaq</text>
<rect x="853" y="1295" width="51" height="26" class="Y"/><text x="857" y="1314" class="gb">Plcb1</text>
<rect x="904" y="1295" width="17" height="26" class="Y"/><text x="912" y="1314" class="gb c">3</text>
<rect x="921" y="1295" width="19" height="26" class="Y"/><text x="930" y="1314" class="gb c">4</text>
<circle cx="944" cy="1308" r="3.5" fill="#fff" stroke="#000"/><path class="ln" d="M948,1308 H959"/>
<text x="933" y="1336" style="font-size:15px">DAG</text>
<rect x="959" y="1297" width="56" height="25" class="Y"/><text x="963" y="1315" class="gb">Prkca</text>
<rect x="1015" y="1297" width="18" height="25" class="Y"/><text x="1024" y="1315" class="gb c">b</text>
<path class="a" d="M1033,1300 L1044,1280"/><path class="a" d="M1033,1310 H1040"/><path class="a" d="M1033,1318 L1046,1343"/>
<rect x="1040" y="1299" width="50" height="25" class="G"/><text x="1044" y="1318" class="gb">Pld1</text>
<rect x="1090" y="1299" width="19" height="25" class="Y"/><text x="1099" y="1318" class="gb c">2</text>
<path d="M1110,1312 H1138 M1130,1305 L1138,1312 L1130,1319" stroke="#000" stroke-width="2.5" fill="none"/>
<g class="ln"><path d="M700,1338 L760,1253"/><path d="M703,1338 L740,1285"/><path d="M706,1338 L793,1308"/><path d="M710,1338 L842,1268"/><path d="M696,1338 L725,1231"/><path d="M700,1338 L770,1231"/></g>
<rect x="661" y="1338" width="56" height="26" class="Y"/><text x="665" y="1357" class="gb">Grm1</text>
<rect x="717" y="1338" width="19" height="26" class="Y"/><text x="726" y="1357" class="gb c">5</text>
<path class="a" d="M736,1350 H750"/>
<rect x="751" y="1337" width="53" height="26" class="Y"/><text x="755" y="1356" class="gb">Gnas</text>
<path class="a" d="M804,1350 H822"/>
<rect x="823" y="1329" width="53" height="22" class="R"/><text x="827" y="1345" class="gi" style="font-size:14.5px">Adcy2</text>
<rect x="876" y="1329" width="16" height="22" class="Y"/><text x="884" y="1345" class="gi c" style="font-size:14.5px">3</text>
<rect x="823" y="1351" width="53" height="20" class="G"/><text x="827" y="1366" class="gi" style="font-size:14.5px">Adcy5</text>
<rect x="876" y="1351" width="16" height="20" class="Y"/><text x="884" y="1366" class="gi c" style="font-size:14.5px">9</text>
<rect x="823" y="1371" width="53" height="20" class="R"/><text x="827" y="1386" class="gi" style="font-size:14.5px">Adcy8</text>
<circle cx="903" cy="1351" r="3.5" fill="#fff" stroke="#000"/><path class="ln" d="M892,1351 H899"/>
<path class="a" d="M907,1351 H929"/>
<text x="880" y="1390" style="font-size:15px">cAMP</text>
<rect x="930" y="1339" width="56" height="26" class="Y"/><text x="934" y="1358" class="gb">Prkca</text>
<rect x="986" y="1339" width="18" height="26" class="Y"/><text x="995" y="1358" class="gb c">b</text>
<rect x="1044" y="1338" width="59" height="25" class="Y"/><text x="1048" y="1356" class="gb">Mapk1</text>
<rect x="1103" y="1338" width="20" height="25" class="Y"/><text x="1113" y="1356" class="gb c">3</text>
<rect x="663" y="1373" width="56" height="27" class="Y"/><text x="667" y="1393" class="gb">Grm2</text>
<rect x="719" y="1373" width="18" height="27" class="Y"/><text x="728" y="1393" class="gb c">3</text>
<rect x="665" y="1406" width="54" height="27" class="Y"/><text x="669" y="1426" class="gb">Grm4</text>
<rect x="719" y="1406" width="19" height="27" class="Y"/><text x="728" y="1426" class="gb c">6</text>
<rect x="665" y="1439" width="54" height="25" class="Y"/><text x="669" y="1458" class="gb">Grm7</text>
<rect x="719" y="1439" width="19" height="25" class="Y"/><text x="728" y="1458" class="gb c">8</text>
<path class="a" d="M737,1386 L768,1398"/><path class="a" d="M738,1418 L768,1405"/><path class="a" d="M738,1440 L768,1412"/>
<rect x="770" y="1391" width="60" height="26" class="Y"/><text x="774" y="1410" class="gb">Gnai1</text>
<rect x="830" y="1391" width="20" height="26" class="Y"/><text x="840" y="1410" class="gb c">2</text>
<rect x="850" y="1391" width="19" height="26" class="Y"/><text x="859" y="1410" class="gb c">3</text>
<rect x="869" y="1391" width="61" height="26" class="Y"/><text x="873" y="1410" class="gb">Gnao1</text>
</g>
</svg>
</body></html>
